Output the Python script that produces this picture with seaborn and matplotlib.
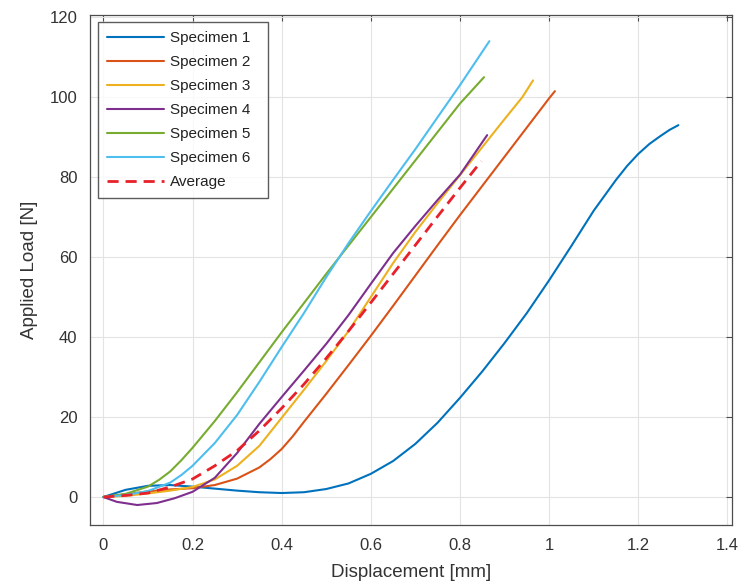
import numpy as np
import pandas as pd
import matplotlib
matplotlib.use("Agg")
import matplotlib.pyplot as plt
import seaborn as sns

# ---- data ----
s1_x = [0, 0.05, 0.1, 0.15, 0.2, 0.25, 0.3, 0.35, 0.4, 0.45, 0.5, 0.55, 0.6, 0.65, 0.7, 0.75,
        0.8, 0.85, 0.9, 0.95, 1.0, 1.05, 1.1, 1.15, 1.175, 1.2, 1.225, 1.25, 1.27, 1.29]
s1_y = [0, 1.8, 2.8, 3.0, 2.6, 2.1, 1.6, 1.2, 1.0, 1.2, 2.0, 3.4, 5.8, 9.0, 13.3, 18.6,
        24.8, 31.4, 38.5, 46.0, 54.2, 62.8, 71.6, 79.3, 82.8, 85.8, 88.3, 90.3, 91.8, 93.0]

s2_x = [0, 0.05, 0.1, 0.15, 0.2, 0.25, 0.3, 0.35, 0.375, 0.4, 0.425, 0.45, 0.5, 0.55, 0.6,
        0.65, 0.7, 0.75, 0.8, 0.85, 0.9, 0.95, 1.0, 1.013]
s2_y = [0, 0.7, 1.4, 1.9, 2.2, 3.0, 4.6, 7.4, 9.5, 12.0, 15.2, 18.8, 25.8, 33.0, 40.3,
        47.8, 55.4, 63.0, 70.5, 77.8, 85.1, 92.4, 99.7, 101.5]

s3_x = [0, 0.05, 0.1, 0.15, 0.2, 0.25, 0.3, 0.35, 0.4, 0.45, 0.5, 0.55, 0.6, 0.65, 0.7,
        0.75, 0.8, 0.85, 0.9, 0.94, 0.964]
s3_y = [0, 0.3, 0.9, 1.6, 2.5, 4.4, 7.8, 12.8, 19.8, 26.8, 34.0, 41.5, 50.0, 58.5, 66.3,
        73.5, 80.5, 87.5, 94.5, 100.0, 104.2]

s4_x = [0, 0.03, 0.076, 0.12, 0.16, 0.2, 0.25, 0.3, 0.35, 0.4, 0.45, 0.5, 0.55, 0.6, 0.65,
        0.7, 0.75, 0.8, 0.861]
s4_y = [0, -1.2, -2.0, -1.5, -0.3, 1.3, 4.8, 11.0, 18.3, 25.0, 31.6, 38.3, 45.5, 53.3, 61.0,
        67.8, 74.3, 80.6, 90.5]

s5_x = [0, 0.05, 0.1, 0.125, 0.15, 0.175, 0.2, 0.25, 0.3, 0.35, 0.4, 0.45, 0.5, 0.55, 0.6,
        0.65, 0.7, 0.75, 0.8, 0.854]
s5_y = [0, 0.8, 2.6, 4.3, 6.4, 9.2, 12.3, 19.0, 26.2, 33.7, 41.2, 48.5, 55.8, 62.9, 70.0,
        77.1, 84.2, 91.3, 98.4, 105.0]

s6_x = [0, 0.05, 0.1, 0.15, 0.175, 0.2, 0.25, 0.3, 0.35, 0.4, 0.45, 0.5, 0.55, 0.6, 0.65,
        0.7, 0.75, 0.8, 0.866]
s6_y = [0, 0.5, 1.5, 3.6, 5.5, 7.8, 13.5, 20.5, 28.8, 37.5, 46.0, 55.0, 63.5, 71.5, 79.3,
        87.0, 95.0, 103.0, 114.0]

avg_x = [0, 0.05, 0.1, 0.15, 0.2, 0.25, 0.3, 0.35, 0.4, 0.45, 0.5, 0.55, 0.6, 0.65, 0.7,
         0.75, 0.8, 0.848]
avg_y = [0, 0.4, 1.0, 2.5, 4.5, 7.8, 11.6, 16.6, 22.2, 28.2, 34.7, 41.5, 48.6, 55.8, 63.0,
         70.2, 77.3, 84.0]

labels = ["Specimen 1", "Specimen 2", "Specimen 3", "Specimen 4",
          "Specimen 5", "Specimen 6", "Average"]
colors = ["#0072BD", "#D95319", "#EDB120", "#7E2F8E", "#77AC30", "#4DBEEE", "#E8202A"]
xs = [s1_x, s2_x, s3_x, s4_x, s5_x, s6_x, avg_x]
ys = [s1_y, s2_y, s3_y, s4_y, s5_y, s6_y, avg_y]

x_ticks = [0, 0.2, 0.4, 0.6, 0.8, 1.0, 1.2, 1.4]
x_ticklabels = ["0", "0.2", "0.4", "0.6", "0.8", "1", "1.2", "1.4"]
y_ticks = [0, 20, 40, 60, 80, 100, 120]

sns.set_theme(style="white")
plt.rcParams["font.family"] = ["Liberation Sans", "DejaVu Sans"]

fig = plt.figure(figsize=(7.4, 5.84), dpi=100)
ax = fig.add_axes([0.1216, 0.101, 0.8674, 0.873])

for lab, c, x, y in zip(labels, colors, xs, ys):
    df = pd.DataFrame({"Displacement": x, "Load": y})
    is_avg = lab == "Average"
    line_ax = sns.lineplot(data=df, x="Displacement", y="Load", ax=ax, color=c, sort=False,
                           linewidth=2.0 if is_avg else 1.5, label=lab, estimator=None)
    if is_avg:
        line_ax.lines[-1].set_dashes((4, 2.5))

ax.set_xlim(-0.03, 1.41)
ax.set_ylim(-7, 120.5)
ax.set_xticks(x_ticks)
ax.set_xticklabels(x_ticklabels)
ax.set_yticks(y_ticks)
ax.grid(True, color="#e3e3e3", linewidth=0.8)
ax.set_axisbelow(True)
for sp in ax.spines.values():
    sp.set_color("#4d4d4d")
    sp.set_linewidth(0.9)
ax.tick_params(direction="in", length=4, width=0.8, color="#4d4d4d",
               top=True, right=True, labelsize=12, labelcolor="#333333", pad=9)
ax.set_xlabel("Displacement [mm]", fontsize=13.5, color="#333333", labelpad=8)
ax.set_ylabel("Applied Load [N]", fontsize=13.5, color="#333333", labelpad=8)

leg = ax.legend(loc="upper left", fontsize=11, frameon=True, fancybox=False,
                handlelength=3.7, handletextpad=0.4, borderpad=0.6, labelspacing=0.65,
                bbox_to_anchor=(0.0125, 0.0, 0.265, 0.986), mode="expand",
                borderaxespad=0.0)
leg.get_frame().set_edgecolor("#333333")
leg.get_frame().set_linewidth(1.0)
for t in leg.get_texts():
    t.set_color("#222222")

fig.savefig("out.png", dpi=100)
